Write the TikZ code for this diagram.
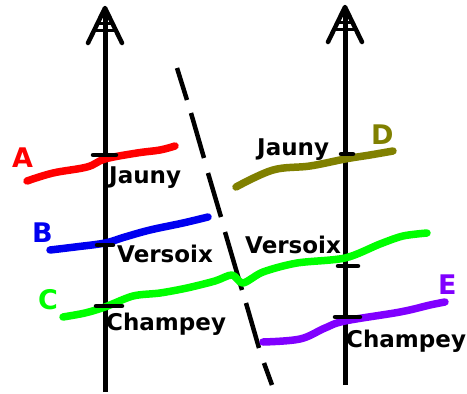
\documentclass[tikz,border=0pt]{standalone}
\usepackage{fontspec}
\setmainfont{DejaVu Sans}
\usetikzlibrary{positioning}
\definecolor{LineRed}{RGB}{255,0,0}
\definecolor{LineBlue}{RGB}{0,0,240}
\definecolor{LineGreen}{RGB}{0,255,0}
\definecolor{LineOlive}{RGB}{128,128,0}
\definecolor{LinePurple}{RGB}{128,0,255}
\tikzset{
  axis/.style={line width=5pt,draw=black},
  tickmark/.style={line width=4.5pt,draw=black,line cap=round},
  fault/.style={line width=4.5pt,draw=black},
  curve/.style={line width=7.5pt,line cap=round,line join=round},
  place/.style={anchor=base west,inner sep=0pt,font=\fontsize{23}{27}\selectfont\bfseries},
  letter/.style={anchor=base west,inner sep=0pt,font=\fontsize{27}{30}\selectfont\bfseries},
  tipmark/.pic={
    \draw[line width=4.5pt,line cap=round,line join=round] (-17,35) -- (0,0) -- (17,35);
    \draw[line width=3pt] (-7,15) -- (7,15);
    \draw[line width=3pt] (-10,22) -- (10,22);
  }
}
\begin{document}
\begin{tikzpicture}[x=1pt,y=-1pt]
  \useasboundingbox (0,0) rectangle (467,394);
  % the two axes
  \draw[axis] (105,392) -- (105,10);
  \pic at (105,8) {tipmark};
  \draw[axis] (345,385) -- (345,9);
  \pic at (345,7) {tipmark};
  % dashed break
  \draw[fault] (177,68) -- (187,100);
  \draw[fault] (191,113) -- (204,158);
  \draw[fault] (208,173) -- (221,217);
  \draw[fault] (225,232) -- (242,290);
  \draw[fault] (246,303) -- (259,348);
  \draw[fault] (264,363) -- (272,385);
  % layers
  \draw[curve,draw=LineRed] plot[smooth,tension=0.6] coordinates
    {(27,181) (53,173) (87,167) (105,159) (137,153) (160,150) (175,146)};
  \draw[curve,draw=LineBlue] plot[smooth,tension=0.6] coordinates
    {(50,250) (75,247) (105,243) (125,237) (150,230) (183,223) (208,217)};
  \draw[curve,draw=LineGreen] plot[smooth,tension=0.5] coordinates
    {(63,317) (85,313) (105,307) (133,296) (160,293) (187,288) (215,281) (232,275)
     (243,283) (263,272) (297,263) (345,258) (380,244) (403,236) (427,233)};
  \draw[curve,draw=LineOlive] plot[smooth,tension=0.6] coordinates
    {(236,187) (273,170) (310,166) (345,159) (370,155) (393,151)};
  \draw[curve,draw=LinePurple] plot[smooth,tension=0.6] coordinates
    {(263,342) (300,339) (325,328) (345,321) (400,312) (430,305) (445,302)};
  % ticks
  \draw[tickmark] (93,155) -- (116,155);
  \draw[tickmark] (97,245) -- (113,245);
  \draw[tickmark] (96,306) -- (122,306);
  \draw[tickmark] (341,154) -- (353,154);
  \draw[tickmark] (338,266) -- (358,266);
  \draw[tickmark] (335,317) -- (360,317);
  % place names
  \node[place] (jaunyL) at (109,183) {Jauny};
  \node[place] (versoixL) at (117,262) {Versoix};
  \node[place] (champeyL) at (106,330) {Champey};
  \node[place] (jaunyR) at (257,155) {Jauny};
  \node[place] (versoixR) at (245,253) {Versoix};
  \node[place] (champeyR) at (346,347) {Champey};
  % layer letters
  \node[letter,text=LineRed] (labA) at (12,167) {A};
  \node[letter,text=LineBlue] (labB) at (32,242) {B};
  \node[letter,text=LineGreen] (labC) at (38,309) {C};
  \node[letter,text=LineOlive] (labD) at (371,144) {D};
  \node[letter,text=LinePurple] (labE) at (438,294) {E};
\end{tikzpicture}
\end{document}
